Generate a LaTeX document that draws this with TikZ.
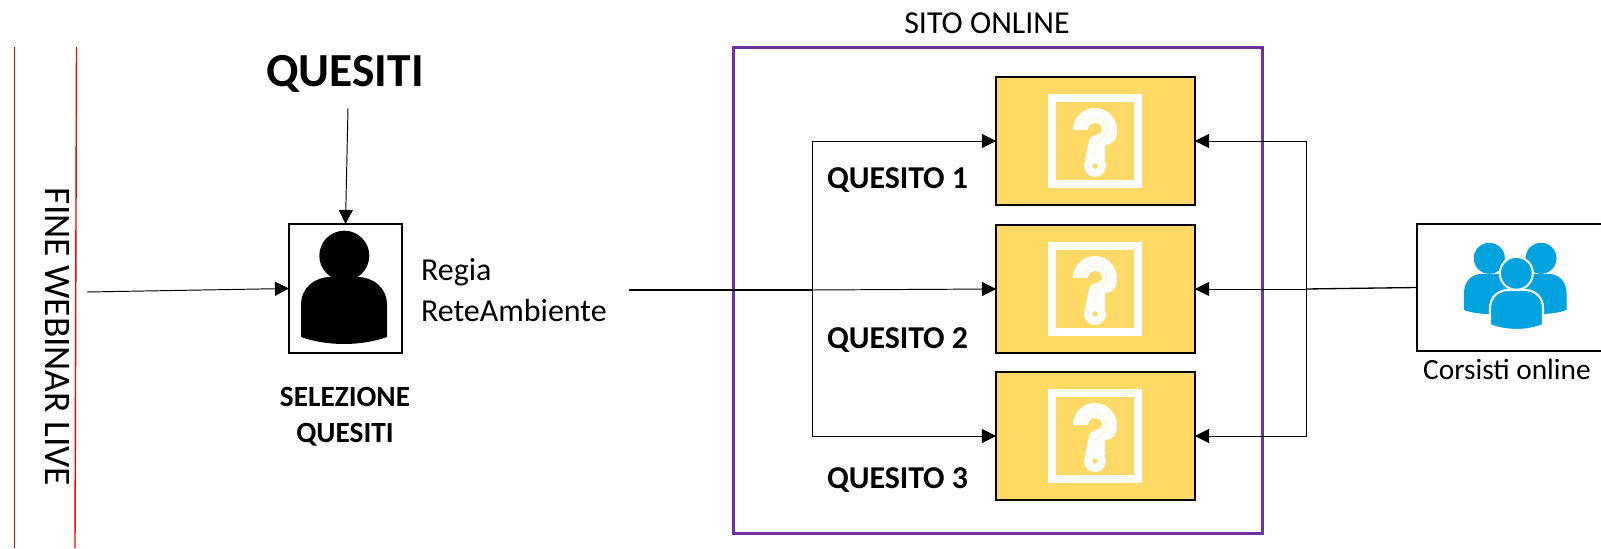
\documentclass[tikz,border=0pt]{standalone}
\usepackage{fontspec}
\setmainfont{Carlito}
\usetikzlibrary{arrows.meta}

\definecolor{giallo}{HTML}{FFD966}
\definecolor{viola}{HTML}{7030A0}
\definecolor{azzurro}{HTML}{00A3DD}

% bust of a person: centre x, half width, y of top, shoulder, corner, bottom
\newcommand\DrawBust[7][]{%
  \pgfmathsetmacro\ctrlY{(4*#7-#6)/3}
  \draw[#1] (#2-#3,#5) .. controls (#2-#3,#5+0.6*#4-0.6*#5) and (#2-0.7*#3,#4) .. (#2-0.3*#3,#4)
    -- (#2+0.3*#3,#4) .. controls (#2+0.7*#3,#4) and (#2+#3,#5+0.6*#4-0.6*#5) .. (#2+#3,#5)
    -- (#2+#3,#6) .. controls (#2+0.4*#3,\ctrlY) and (#2-0.4*#3,\ctrlY) .. (#2-#3,#6) -- cycle;
}
% question mark in its frame, centred on the given point
\newcommand\DrawQuesitoIcon[2]{%
  \begin{scope}[shift={(#1,#2)}]
    \draw[white,line width=4.5pt] (-43,-43) rectangle (43,43);
    \fill[white] (-22,11) arc (180:0:22) .. controls (22,0) and (17,-4) .. (10,-4) -- (10,-19) -- (-10,-19)
      -- (-5.7,1) .. controls (-5,7) and (7,5) .. (7,11) arc (0:180:7) -- cycle;
    \draw[giallo!35!white,line width=0.4pt] (-11,16) arc (155:-10:12) .. controls (11,3) and (0,3) .. (-1,-14);
    \fill[white] (0,-25) circle (11);
    \fill[giallo] (0,-25) circle (2.7);
  \end{scope}
}
\tikzset{
  >={Triangle[length=8pt,width=8pt]},
  inner sep=0pt,
  outer sep=0pt,
  freccia/.style={->,line width=0.55pt},
  tratto/.style={line width=0.75pt},
  quesitobox/.style={draw=black,line width=1.6pt,fill=giallo,minimum width=3.98cm,minimum height=2.56cm},
  iconbox/.style={draw=black,line width=1.1pt,fill=white},
  rosso/.style={red,line width=0.8pt}
}

\begin{document}
\begin{tikzpicture}[x=0.02cm,y=0.02cm]
	%% page
	\clip (0,0) rectangle (1601,548);

	%% end of the live webinar
	\draw[rosso] (14.5,501) -- (14.5,0);
	\draw[rosso] (76.5,501) -- (75,0);
	\node[rotate=-90,font=\fontsize{21.3}{24}\selectfont] (fine) at (58,211) {FINE WEBINAR LIVE};

	%% selection
	\node[font=\fontsize{27}{32}\selectfont\bfseries] (quesiti) at (345,474) {QUESITI};
	\node[iconbox,minimum width=2.26cm,minimum height=2.58cm] (persona) at (345.5,259.5) {};
	\fill (344.3,292.3) circle (25);
	\DrawBust[fill=black,draw=none]{344}{43}{271}{243}{211}{204}
	\node[font=\fontsize{16.7}{20.5}\selectfont\bfseries,align=center] (selezione) at (345,131) {SELEZIONE\\QUESITI};
	\node[anchor=west,font=\fontsize{18.2}{23.2}\selectfont,align=left] (regia) at (421,258) {Regia\\ReteAmbiente};

	%% online site
	\node[draw=viola,line width=1.7pt,minimum width=10.6cm,minimum height=9.74cm] (sito) at (998,257.5) {};
	\node[font=\fontsize{18.2}{22}\selectfont] (titolosito) at (987,525) {SITO ONLINE};
	\node[quesitobox] (quesitoA) at (1095.5,407) {};
	\node[quesitobox] (quesitoB) at (1095.5,259) {};
	\node[quesitobox] (quesitoC) at (1095.5,112) {};
	\DrawQuesitoIcon{1095}{407}
	\DrawQuesitoIcon{1095}{259}
	\DrawQuesitoIcon{1095}{112}
	\node[anchor=west,font=\fontsize{18.1}{22}\selectfont\bfseries] (etichettaA) at (827,368) {QUESITO 1};
	\node[anchor=west,font=\fontsize{18.1}{22}\selectfont\bfseries] (etichettaB) at (827,208) {QUESITO 2};
	\node[anchor=west,font=\fontsize{18.1}{22}\selectfont\bfseries] (etichettaC) at (827,68) {QUESITO 3};

	%% participants
	\node[iconbox,minimum width=4.06cm,minimum height=2.54cm] (corsisti) at (1518.5,260.5) {};
	\node[font=\fontsize{16.7}{20}\selectfont] (testocorsisti) at (1507,179) {Corsisti online};
	\DrawBust[fill=azzurro,draw=none]{1489.5}{25.5}{274}{255}{238}{234}
	\DrawBust[fill=azzurro,draw=none]{1541}{25.5}{274}{255}{238}{234}
	\fill[azzurro] (1489.3,289.7) circle (15.5);
	\fill[azzurro] (1541,289.7) circle (15.5);
	\DrawBust[fill=azzurro,draw=white,line width=1.2pt]{1516.5}{26.5}{258}{240}{223}{218}
	\draw[fill=azzurro,draw=white,line width=1.2pt] (1516.3,274.7) circle (16.5);

	%% connectors
	\coordinate (avvio) at (87,256);
	\coordinate (partenza) at (348,440);
	\coordinate (uscita) at (629,258);
	\coordinate (nodosx) at (812,258);
	\coordinate (nododx) at (1306,259);
	\draw[freccia] (avvio) -- (persona.west);
	\draw[freccia] (partenza) -- (persona.north);
	\draw[tratto] (uscita) -- (nodosx);
	\draw[freccia] (nodosx) -- (quesitoB.west);
	\draw[freccia] (nodosx) |- (quesitoA.west);
	\draw[freccia] (nodosx) |- (quesitoC.west);
	\draw[tratto] (corsisti.west) -- (nododx);
	\draw[freccia] (nododx) -- (quesitoB.east);
	\draw[freccia] (nododx) |- (quesitoA.east);
	\draw[freccia] (nododx) |- (quesitoC.east);
\end{tikzpicture}
\end{document}
